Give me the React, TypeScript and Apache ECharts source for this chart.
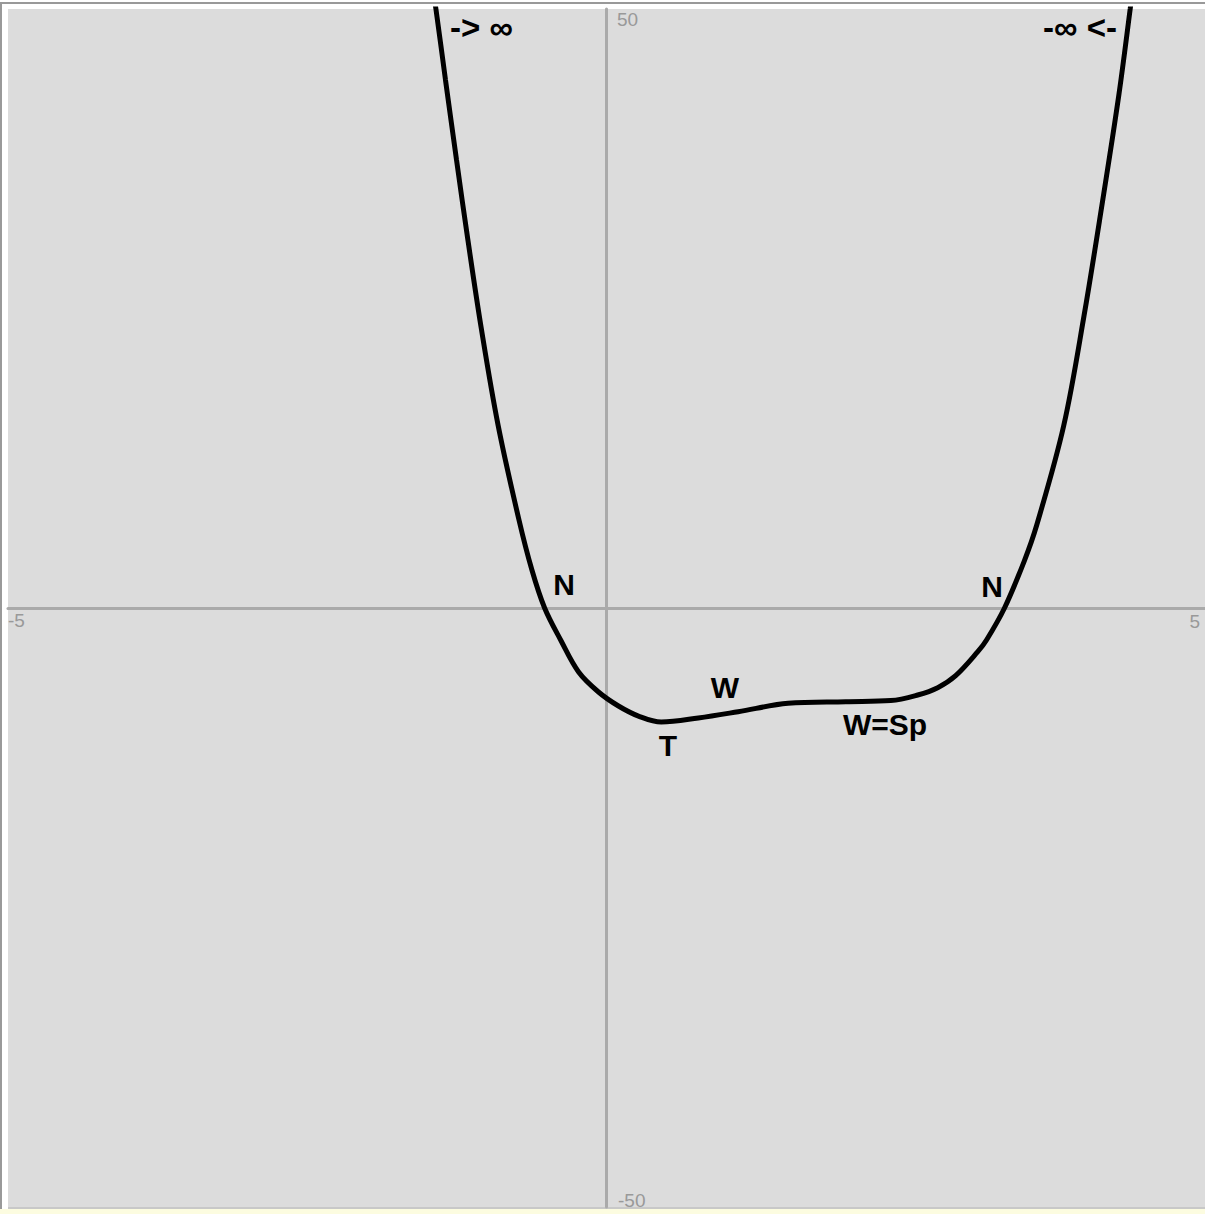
import React, { useEffect, useRef } from "react";
import * as echarts from "echarts";

const curveX = [-1.442, -1.425, -1.345, -1.253, -1.158, -1.044, -0.906, -0.733, -0.623, -0.517, -0.383, -0.233, -0.067, 0.1, 0.267, 0.458, 0.767, 1.1, 1.517, 2.0, 2.375, 2.6, 2.767, 2.917, 3.1, 3.175, 3.325, 3.49, 3.595, 3.82, 3.989, 4.142, 4.281, 4.375, 4.392];
const curveY = [51.0, 50.0, 44.07, 37.4, 30.72, 23.21, 15.28, 7.43, 3.17, 0, -2.67, -5.34, -7.01, -8.18, -9.02, -9.52, -9.18, -8.66, -7.96, -7.82, -7.73, -7.26, -6.65, -5.65, -3.67, -2.67, 0, 3.92, 6.95, 15.23, 24.37, 33.82, 42.88, 50.0, 51.4];

const xRange = [-5, 5];
const yRange = [-50, 50];
const tickLabels = { xMin: "-5", xMax: "5", yMax: "50", yMin: "-50" };

const annotations = ["-> ∞", "-∞ <-", "N", "N", "W", "T", "W=Sp"];

export default function App() {
  const ref = useRef<HTMLDivElement>(null);
  useEffect(() => {
    if (!ref.current) return;
    const chart = echarts.init(ref.current, null, { renderer: "svg" });
    const data = curveX.map((x, i) => [x, curveY[i]]);
    const big = { fontFamily: "Liberation Sans, Arial, sans-serif", fontWeight: "bold", fontSize: 30, fill: "#000" };
    const inf = { fontFamily: "Liberation Sans, Arial, sans-serif", fontWeight: "bold", fontSize: 33, fill: "#000" };
    const small = { fontFamily: "Liberation Sans, Arial, sans-serif", fontSize: 19, fill: "#999" };
    chart.setOption({
      animation: false,
      backgroundColor: "#ffffff",
      grid: { left: 8, top: 9, width: 1200, height: 1198, show: true, backgroundColor: "#dcdcdc", borderWidth: 0 },
      xAxis: {
        type: "value", min: xRange[0], max: xRange[1],
        axisLine: { show: true, onZero: true, lineStyle: { color: "#aaaaaa", width: 3 } },
        axisTick: { show: false }, axisLabel: { show: false }, splitLine: { show: false },
      },
      yAxis: {
        type: "value", min: yRange[0], max: yRange[1],
        axisLine: { show: true, onZero: true, lineStyle: { color: "#aaaaaa", width: 3 } },
        axisTick: { show: false }, axisLabel: { show: false }, splitLine: { show: false },
      },
      series: [
        {
          type: "line", data, symbol: "none", smooth: 0.35, clip: true,
          lineStyle: { color: "#000", width: 5 },
        },
      ],
      graphic: [
        { type: "rect", shape: { x: 0, y: 2, width: 1205, height: 2 }, style: { fill: "#999999" } },
        { type: "rect", shape: { x: 0, y: 2, width: 2, height: 1212 }, style: { fill: "#999999" } },
        { type: "rect", shape: { x: 8, y: 1207, width: 1197, height: 2 }, style: { fill: "#c8c8c8" } },
        { type: "rect", shape: { x: 0, y: 1209, width: 1205, height: 5 }, style: { fill: "#fcfce0" } },
        { type: "text", x: 617, y: 19, style: { ...small, text: tickLabels.yMax, align: "left", verticalAlign: "middle" } },
        { type: "text", x: 618, y: 1200, style: { ...small, text: tickLabels.yMin, align: "left", verticalAlign: "middle" } },
        { type: "text", x: 8, y: 620, style: { ...small, text: tickLabels.xMin, align: "left", verticalAlign: "middle" } },
        { type: "text", x: 1200, y: 621, style: { ...small, text: tickLabels.xMax, align: "right", verticalAlign: "middle" } },
        { type: "text", x: 450, y: 27, style: { ...inf, text: annotations[0], align: "left", verticalAlign: "middle" } },
        { type: "text", x: 1117, y: 27, style: { ...inf, text: annotations[1], align: "right", verticalAlign: "middle" } },
        { type: "text", x: 564, y: 584, style: { ...big, text: annotations[2], align: "center", verticalAlign: "middle" } },
        { type: "text", x: 992, y: 586, style: { ...big, text: annotations[3], align: "center", verticalAlign: "middle" } },
        { type: "text", x: 725, y: 687, style: { ...big, text: annotations[4], align: "center", verticalAlign: "middle" } },
        { type: "text", x: 668, y: 745, style: { ...big, text: annotations[5], align: "center", verticalAlign: "middle" } },
        { type: "text", x: 885, y: 724, style: { ...big, text: annotations[6], align: "center", verticalAlign: "middle" } },
      ],
    });
    return () => chart.dispose();
  }, []);
  return <div ref={ref} style={{ position: "absolute", left: 0, top: 0, width: 1205, height: 1214 }} />;
}
